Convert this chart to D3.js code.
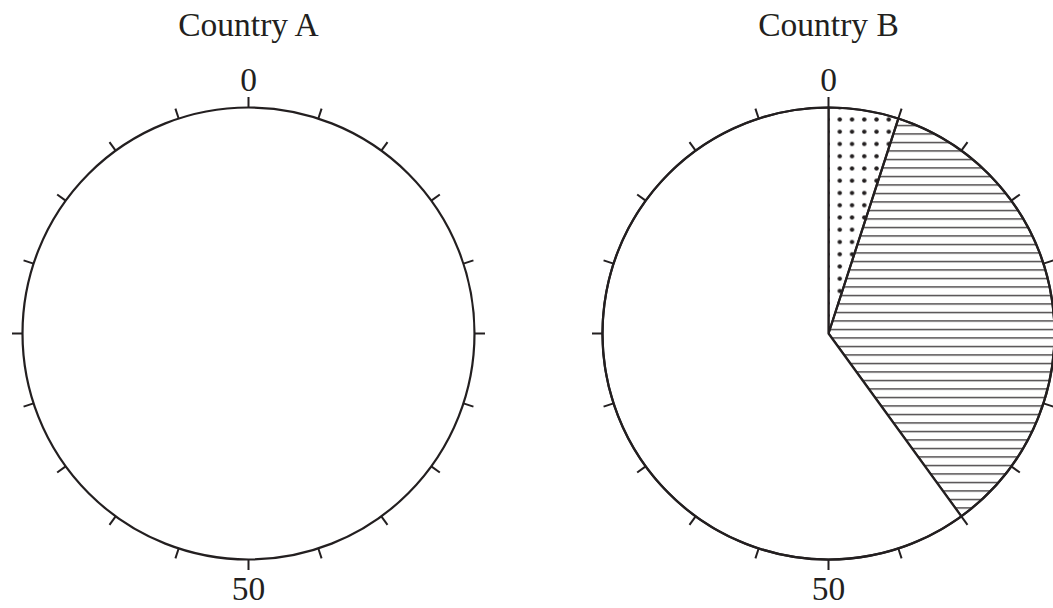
<!DOCTYPE html>
<html>
<head>
<meta charset="utf-8">
<script src="https://cdn.jsdelivr.net/npm/d3@7"></script>
<style>
  body { margin: 0; background: #fff; }
  text { font-family: "Liberation Serif", "Times New Roman", serif; fill: #231f20; }
</style>
</head>
<body>
<script>
// chart data
const countries = ["Country A", "Country B"];
const categories = ["Dotted", "Hatched", "Other"];
const shares = [
    [],          // Country A: left blank
    [5, 35, 60]  // Country B
];
const tickPercents = [0, 5, 10, 15, 20, 25, 30, 35, 40, 45, 50, 55, 60, 65, 70, 75, 80, 85, 90, 95];
const tickLabels = [0, 50];

const width = 1053;
const height = 608;
const radius = 226;
const ink = "#231f20";

const svg = d3.select("body").append("svg")
    .attr("width", width)
    .attr("height", height);

// fills
const defs = svg.append("defs");

const dots = defs.append("pattern")
    .attr("id", "dots")
    .attr("patternUnits", "userSpaceOnUse")
    .attr("x", 825.9).attr("y", 110.6)
    .attr("width", 12.25).attr("height", 12.25);
dots.append("circle")
    .attr("cx", 6.125).attr("cy", 6.125).attr("r", 2.2)
    .attr("fill", ink);

const hatch = defs.append("pattern")
    .attr("id", "hatch")
    .attr("patternUnits", "userSpaceOnUse")
    .attr("x", 0).attr("y", 0)
    .attr("width", 20).attr("height", 8.5);
hatch.append("line")
    .attr("x1", 0).attr("x2", 20)
    .attr("y1", 4.5).attr("y2", 4.5)
    .attr("stroke", ink)
    .attr("stroke-width", 1.2);

const fills = ["url(#dots)", "url(#hatch)", "#fff"];

const angle = d3.scaleLinear().domain([0, 100]).range([0, 2 * Math.PI]);
const centerX = d3.scalePoint().domain(countries).range([248.5, 828.5]);
const centerY = 333.5;

const pie = d3.pie().sort(null).value(d => d)
    .startAngle(0).endAngle(2 * Math.PI);
const arc = d3.arc().innerRadius(0).outerRadius(radius);

countries.forEach((name, i) => {
    const g = svg.append("g")
        .attr("transform", `translate(${centerX(name)},${centerY})`);

    g.append("text")
        .attr("x", 0)
        .attr("y", 36 - centerY)
        .attr("text-anchor", "middle")
        .style("font-size", "33.5px")
        .text(name);

    if (shares[i].length) {
        g.selectAll(".slice")
            .data(pie(shares[i]))
            .enter().append("path")
            .attr("class", "slice")
            .attr("d", arc)
            .attr("fill", (d, j) => fills[j])
            .attr("stroke", ink)
            .attr("stroke-width", 2.2)
            .attr("stroke-linejoin", "round");
    } else {
        g.append("circle")
            .attr("r", radius)
            .attr("fill", "#fff");
    }

    g.append("circle")
        .attr("r", radius)
        .attr("fill", "none")
        .attr("stroke", ink)
        .attr("stroke-width", 2.2);

    g.selectAll(".tick")
        .data(tickPercents)
        .enter().append("line")
        .attr("class", "tick")
        .attr("x1", d => Math.sin(angle(d)) * radius)
        .attr("y1", d => -Math.cos(angle(d)) * radius)
        .attr("x2", d => Math.sin(angle(d)) * (radius + 10.5))
        .attr("y2", d => -Math.cos(angle(d)) * (radius + 10.5))
        .attr("stroke", ink)
        .attr("stroke-width", 2);

    g.selectAll(".tlabel")
        .data(tickLabels)
        .enter().append("text")
        .attr("class", "tlabel")
        .attr("x", d => Math.sin(angle(d)) * (radius + 17))
        .attr("y", d => -Math.cos(angle(d)) * (radius + 17))
        .attr("dy", d => Math.cos(angle(d)) > 0 ? 0 : "0.7em")
        .attr("text-anchor", "middle")
        .style("font-size", "33.5px")
        .text(d => d);
});
</script>
</body>
</html>
